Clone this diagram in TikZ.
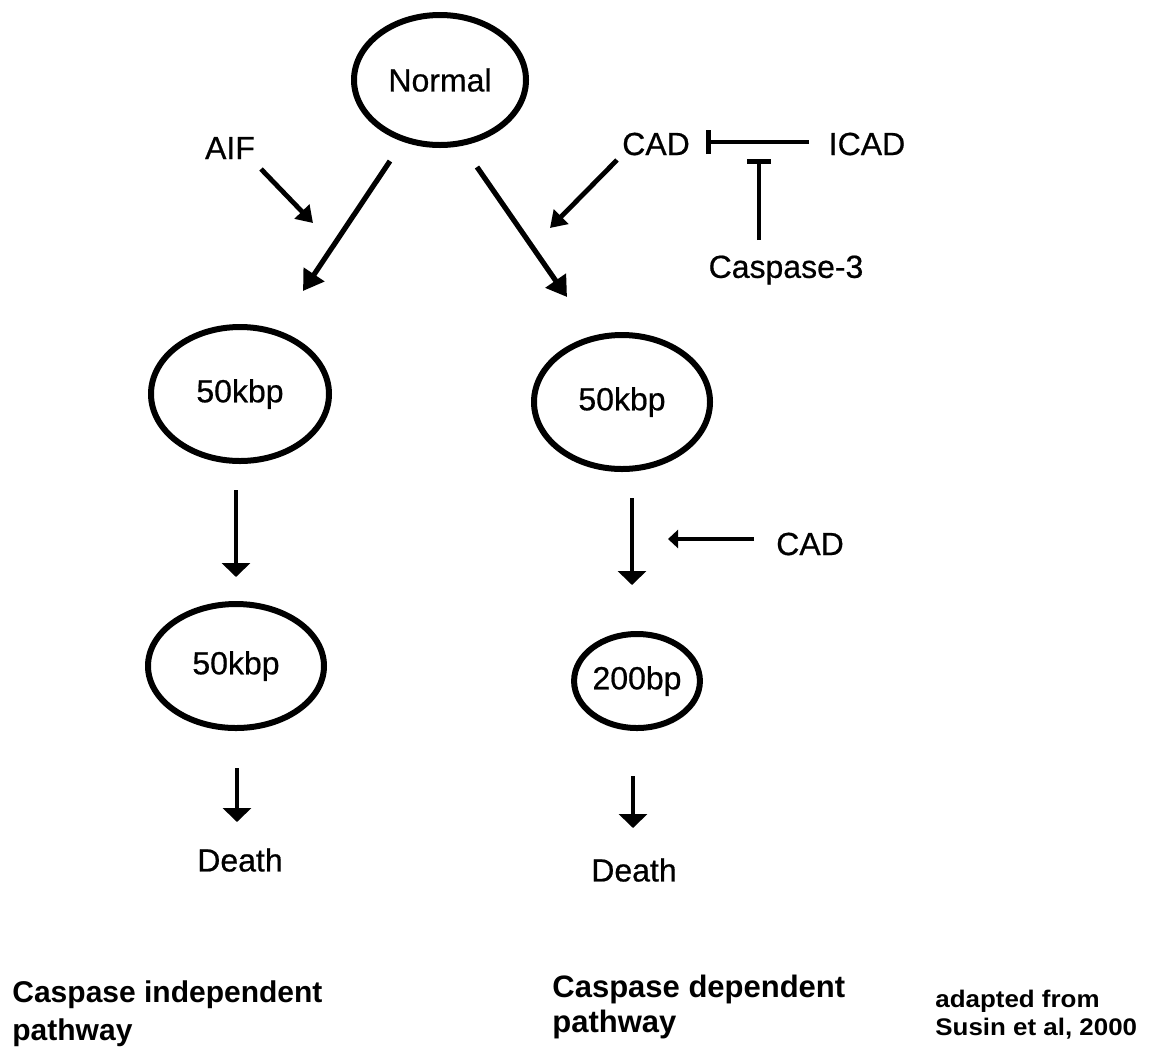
\documentclass[tikz,border=0pt]{standalone}
\usepackage{fontspec}
\setmainfont{Liberation Sans}
\newfontfamily\lblfont[FakeBold=0.6]{Liberation Sans}
\newfontfamily\adfont[FakeStretch=1.08]{Liberation Sans}
\usetikzlibrary{shapes.geometric,arrows.meta}
\begin{document}
\begin{tikzpicture}[x=0.5pt,y=-0.5pt,
  ell/.style={draw, ellipse, line width=3pt, inner sep=0pt, font=\lblfont\fontsize{16}{19}\selectfont},
  lbl/.style={font=\lblfont\fontsize{16}{19}\selectfont, inner sep=0pt},
  capA/.style={font=\fontsize{15}{18}\selectfont\bfseries, inner sep=0pt, anchor=base west},
  capB/.style={font=\fontsize{15.5}{18}\selectfont\bfseries, inner sep=0pt, anchor=base west},
  capC/.style={font=\adfont\fontsize{12}{14}\selectfont\bfseries, inner sep=0pt, anchor=base west},
  bigarr/.style={line width=2.6pt, -{Triangle[length=10pt,width=12pt]}},
  smallarr/.style={line width=2.4pt, -{Triangle[length=8pt,width=10pt]}},
  downarr/.style={line width=2.4pt, -{Triangle[length=7pt,width=14pt]}},
  sidearr/.style={line width=2.2pt, -{Triangle[length=5pt,width=9pt]}},
  inh/.style={line width=2.4pt, -{Bar[width=12pt,line width=2.6pt]}}
]
\useasboundingbox (0,0) rectangle (1150,1051);

% ellipses
\node[ell, minimum width=86pt, minimum height=65pt] (normal) at (440,80) {Normal};
\node[ell, minimum width=89pt, minimum height=67pt] (l1) at (240,394) {50kbp};
\node[ell, minimum width=88pt, minimum height=67pt] (r1) at (622,402) {50kbp};
\node[ell, minimum width=88pt, minimum height=62pt] (l2) at (236,666) {50kbp};
\node[ell, minimum width=61pt, minimum height=47pt] (r2) at (637,681) {200bp};

% labels
\node[lbl] (aif) at (230,148) {AIF};
\node[lbl] (cadt) at (656,144) {CAD};
\node[lbl] (icad) at (867,144) {ICAD};
\node[lbl] (casp) at (786,270) {Caspase-3};
\node[lbl] (cadr) at (810,544) {CAD};
\node[lbl] (deathl) at (240,860) {Death};
\node[lbl] (deathr) at (634,870) {Death};

% arrow end points
\coordinate (nl1) at (390,161); \coordinate (nl2) at (303,291);
\coordinate (nr1) at (477,167); \coordinate (nr2) at (567,297);
\coordinate (a1) at (261,169);  \coordinate (a2) at (313,223);
\coordinate (c1) at (617,160);  \coordinate (c2) at (550,228);
\coordinate (i1) at (809,142);  \coordinate (i2) at (706,142);
\coordinate (k1) at (759,240);  \coordinate (k2) at (759,159);
\coordinate (dl1) at (236,490); \coordinate (dl2) at (236,577);
\coordinate (dr1) at (632,498); \coordinate (dr2) at (632,585);
\coordinate (s1) at (754,539);  \coordinate (s2) at (668,539);
\coordinate (el1) at (237,768); \coordinate (el2) at (237,822);
\coordinate (er1) at (633,776); \coordinate (er2) at (633,828);

\draw[bigarr] (nl1) -- (nl2);
\draw[bigarr] (nr1) -- (nr2);
\draw[smallarr] (a1) -- (a2);
\draw[smallarr] (c1) -- (c2);
\draw[inh] (i1) -- (i2);
\draw[inh] (k1) -- (k2);
\draw[downarr] (dl1) -- (dl2);
\draw[downarr] (dr1) -- (dr2);
\draw[sidearr] (s1) -- (s2);
\draw[downarr] (el1) -- (el2);
\draw[downarr] (er1) -- (er2);

% captions
\node[capA] (cl1) at (12,1002) {Caspase independent};
\node[capA] (cl2) at (12,1040) {pathway};
\node[capB] (cr1) at (552,997) {Caspase dependent};
\node[capB] (cr2) at (552,1032) {pathway};
\node[capC] (ad1) at (935,1007) {adapted from};
\node[capC] (ad2) at (935,1035) {Susin et al, 2000};
\end{tikzpicture}
\end{document}
